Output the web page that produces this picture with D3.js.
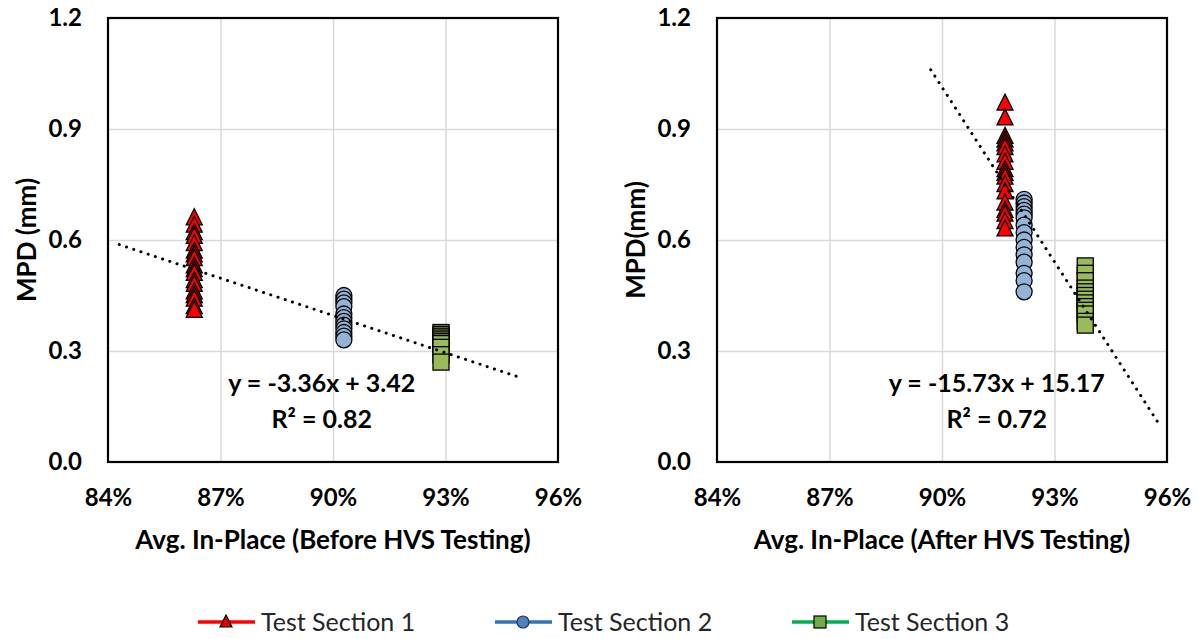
<!DOCTYPE html>
<html lang="en">
<head>
<meta charset="UTF-8">
<title>MPD vs Avg. In-Place</title>
<script src="https://cdn.jsdelivr.net/npm/d3@7"></script>
<style>
  body { margin: 0; background: #fff; }
  svg text { font-family: Lato, "Liberation Sans", sans-serif; }
</style>
</head>
<body>
<script>
// data
var sections = ["Test Section 1", "Test Section 2", "Test Section 3"];
var xTitles = ["Avg. In-Place (Before HVS Testing)", "Avg. In-Place (After HVS Testing)"];
var yTitles = ["MPD (mm)", "MPD(mm)"];

// average in-place density of each section (x of every point)
var beforeX = [0.863, 0.9029, 0.9288];
var afterX = [0.9168, 0.9219, 0.9382];

var beforeTS1 = [0.66, 0.64, 0.62, 0.61, 0.59, 0.57, 0.56, 0.55, 0.53, 0.52, 0.51, 0.49, 0.48, 0.46, 0.45, 0.44, 0.42, 0.41];
var beforeTS2 = [0.45, 0.44, 0.43, 0.42, 0.40, 0.39, 0.38, 0.37, 0.36, 0.35, 0.34, 0.33];
var beforeTS3 = [0.35, 0.345, 0.34, 0.335, 0.33, 0.325, 0.32, 0.31, 0.29, 0.27];

var afterTS1 = [0.97, 0.93, 0.88, 0.87, 0.86, 0.85, 0.83, 0.81, 0.79, 0.78, 0.77, 0.75, 0.73, 0.70, 0.68, 0.67, 0.65, 0.63];
var afterTS2 = [0.71, 0.70, 0.69, 0.68, 0.67, 0.66, 0.64, 0.62, 0.60, 0.58, 0.56, 0.54, 0.51, 0.49, 0.46];
var afterTS3 = [0.53, 0.51, 0.49, 0.47, 0.46, 0.45, 0.44, 0.43, 0.42, 0.41, 0.40, 0.38, 0.37];

// linear trendlines (before, after)
var trendSlope = [-3.36, -15.73];
var trendIntercept = [3.42, 15.17];
var trendR2 = [0.82, 0.72];
var trendFrom = [0.843, 0.897];
var trendTo = [0.949, 0.9575];

var xTicks = [0.84, 0.87, 0.90, 0.93, 0.96];
var yTicks = [0.0, 0.3, 0.6, 0.9, 1.2];

//画布
var width = 1198, height = 639;
var svg = d3.select("body").append("svg")
    .attr("width", width)
    .attr("height", height);

var fills = ["#ff0000", "#95b3d7", "#9bbb59"];
var lineColors = ["#ff0000", "#2e75b6", "#00b050"];
var legendFills = ["#e00000", "#4f81bd", "#70ad47"];

function marker(sel, kind, s) {
    // s = half size
    if (kind === 0) {
        sel.append("path").attr("d", "M0," + (-s - 1) + "L" + s + "," + (s - 1) + "L" + (-s) + "," + (s - 1) + "Z");
    } else if (kind === 1) {
        sel.append("circle").attr("r", s);
    } else {
        sel.append("rect").attr("x", -s).attr("y", -s).attr("width", 2 * s).attr("height", 2 * s);
    }
}

var panels = [
    { left: 108, xs: beforeX, ys: [beforeTS1, beforeTS2, beforeTS3], labelX: 0.897 },
    { left: 717, xs: afterX, ys: [afterTS1, afterTS2, afterTS3], labelX: 0.9146 }
];
var plotTop = 18, plotBottom = 462, pw = 450;

panels.forEach(function (p, k) {
    var x = d3.scaleLinear().domain([0.84, 0.96]).range([p.left, p.left + pw]);
    var y = d3.scaleLinear().domain([0, 1.2]).range([plotBottom, plotTop]);
    var g = svg.append("g");

    //网格线
    g.append("g").attr("transform", "translate(0," + plotBottom + ")")
        .call(d3.axisBottom(x).tickValues(xTicks.slice(1, -1)).tickSize(-(plotBottom - plotTop)).tickFormat(""))
        .call(function (a) { a.select(".domain").remove(); })
        .selectAll("line").attr("stroke", "#d9d9d9").attr("stroke-width", 1.5);
    g.append("g").attr("transform", "translate(" + p.left + ",0)")
        .call(d3.axisLeft(y).tickValues(yTicks.slice(1, -1)).tickSize(-pw).tickFormat(""))
        .call(function (a) { a.select(".domain").remove(); })
        .selectAll("line").attr("stroke", "#d9d9d9").attr("stroke-width", 1.5);

    //坐标轴文字
    var ax = g.append("g").attr("transform", "translate(0," + plotBottom + ")")
        .call(d3.axisBottom(x).tickValues(xTicks).tickSize(0).tickPadding(27).tickFormat(d3.format(".0%")));
    ax.select(".domain").remove();
    ax.selectAll("text").attr("font-size", 24).attr("font-weight", "bold").attr("fill", "#000")
        .attr("font-family", "Lato, sans-serif");
    var ay = g.append("g").attr("transform", "translate(" + p.left + ",0)")
        .call(d3.axisLeft(y).tickValues(yTicks).tickSize(0).tickPadding(26).tickFormat(d3.format(".1f")));
    ay.select(".domain").remove();
    ay.selectAll("text").attr("font-size", 24).attr("font-weight", "bold").attr("fill", "#000")
        .attr("font-family", "Lato, sans-serif");

    g.append("text").attr("x", p.left + pw / 2).attr("y", 549)
        .attr("text-anchor", "middle").attr("font-size", 26).attr("font-weight", "bold")
        .text(xTitles[k]);
    g.append("text").attr("transform", "translate(" + (p.left - 72) + "," + ((plotTop + plotBottom) / 2) + ") rotate(-90)")
        .attr("text-anchor", "middle").attr("font-size", 26).attr("font-weight", "bold")
        .text(yTitles[k]);

    //数据点
    p.ys.forEach(function (vals, si) {
        var pts = g.selectAll(null).data(vals).enter().append("g")
            .attr("transform", function (d) { return "translate(" + x(p.xs[si]) + "," + y(d) + ")"; })
            .attr("fill", fills[si]).attr("stroke", "#000").attr("stroke-width", 1.3);
        pts.each(function () { marker(d3.select(this), si, 8); });
    });

    //趋势线
    var tl = [trendFrom[k], trendTo[k]].map(function (v) { return [v, trendSlope[k] * v + trendIntercept[k]]; });
    g.append("path").datum(tl)
        .attr("d", d3.line().x(function (d) { return x(d[0]); }).y(function (d) { return y(d[1]); }))
        .attr("fill", "none").attr("stroke", "#000").attr("stroke-width", 3)
        .attr("stroke-linecap", "round").attr("stroke-dasharray", "0.1 7.5");

    var eq = "y = " + trendSlope[k].toFixed(2) + "x + " + trendIntercept[k].toFixed(2);
    g.append("text").attr("x", x(p.labelX)).attr("y", 392).attr("text-anchor", "middle")
        .attr("font-size", 25).attr("font-weight", "bold").text(eq);
    g.append("text").attr("x", x(p.labelX)).attr("y", 428).attr("text-anchor", "middle")
        .attr("font-size", 25).attr("font-weight", "bold").text("R² = " + trendR2[k].toFixed(2));

    //边框
    g.append("rect").attr("x", p.left).attr("y", plotTop).attr("width", pw).attr("height", plotBottom - plotTop)
        .attr("fill", "none").attr("stroke", "#000").attr("stroke-width", 2.2);
});

//图例
var legend = svg.append("g").selectAll("g").data(sections).enter().append("g")
    .attr("transform", function (d, i) { return "translate(" + (198 + i * 297) + ",622)"; });
legend.append("line").attr("x1", 0).attr("x2", 57)
    .attr("stroke", function (d, i) { return lineColors[i]; }).attr("stroke-width", 3.5);
legend.each(function (d, i) {
    var m = d3.select(this).append("g").attr("transform", "translate(28,0)")
        .attr("fill", legendFills[i]).attr("stroke", i === 1 ? "#1f3864" : "#000").attr("stroke-width", 1.2);
    marker(m, i, 6);
});
legend.append("text").attr("x", 63).attr("y", 9).attr("font-size", 25).attr("fill", "#262626")
    .text(function (d) { return d; });
</script>
</body>
</html>
